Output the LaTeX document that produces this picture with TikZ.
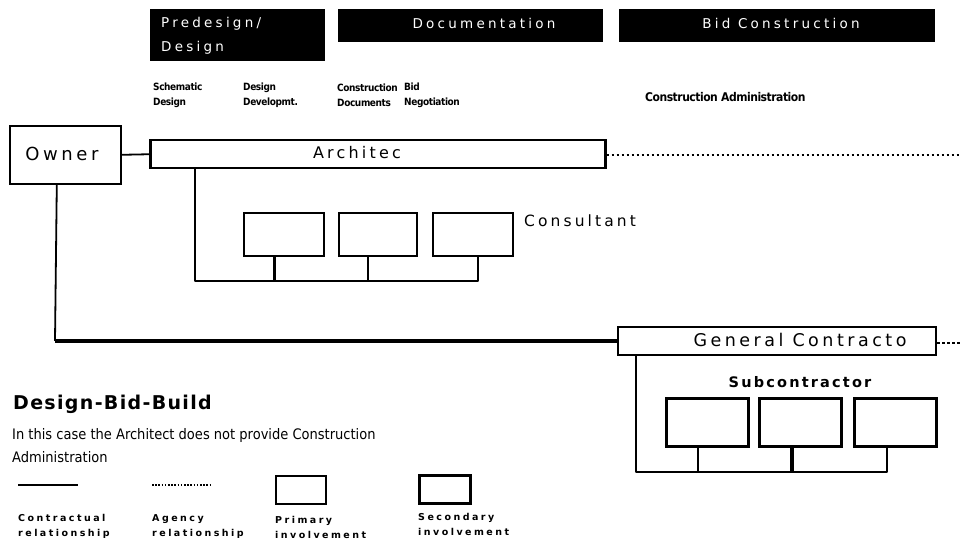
\documentclass[tikz,border=0pt]{standalone}
\usepackage{fontspec}
\setmainfont{DejaVu Sans}
\newfontfamily\headfont[LetterSpace=24]{DejaVu Sans}
\newfontfamily\labelfont[LetterSpace=20]{DejaVu Sans}
\newfontfamily\subfont[LetterSpace=15]{DejaVu Sans}
\newfontfamily\titlefont[LetterSpace=7]{DejaVu Sans}
\newfontfamily\legendfont[LetterSpace=26]{DejaVu Sans}
\newfontfamily\narrowfont[LetterSpace=-4]{DejaVu Sans Condensed}
\newfontfamily\notefont{DejaVu Sans Condensed}
\begin{document}
\begin{tikzpicture}[x=1pt,y=-1pt,
  phase/.style={fill=black,inner sep=0pt,anchor=north west},
  phasetext/.style={text=white,inner sep=0pt,font=\fontsize{13.5}{24}\headfont,align=left},
  sublabel/.style={anchor=west,inner sep=0pt,font=\fontsize{10}{15}\narrowfont\bfseries,align=left},
  bar/.style={draw,line width=2.5pt,inner sep=0pt,anchor=north west},
  primbox/.style={draw,line width=1.8pt,inner sep=0pt,anchor=north west},
  secbox/.style={draw,line width=2.8pt,inner sep=0pt,anchor=north west},
  contract/.style={line width=2.6pt,line cap=round,line join=round},
  thin contract/.style={line width=1.8pt},
  agency/.style={line width=1.6pt,dash pattern=on 2.5pt off 2.5pt},
  legendtext/.style={anchor=north west,inner sep=0pt,font=\fontsize{9.5}{15}\legendfont\bfseries,align=left}]
\useasboundingbox (0,0) rectangle (961,548);

% phase headings
\node[phase,minimum width=175,minimum height=52] (pre) at (150,9) {};
\node[phasetext,anchor=north west] (pretxt) at (161,17) {Predesign/\\Design};
\node[phase,minimum width=265,minimum height=33] (doc) at (338,9) {};
\node[phasetext] (doctxt) at (484,23) {Documentation};
\node[phase,minimum width=316,minimum height=33] (bid) at (619,9) {};
\node[phasetext] (bidtxt) at (781,23) {Bid Construction};

% phase sub-labels
\node[sublabel] (sd) at (153,95) {Schematic\\Design};
\node[sublabel] (dd) at (243,95) {Design\\Developmt.};
\node[sublabel] (cd) at (337,95) {Construction\\Documents};
\node[sublabel] (bn) at (404,95) {Bid\\Negotiation};
\node[sublabel,font=\fontsize{12}{15}\narrowfont\bfseries] (ca) at (645,97) {Construction Administration};

% owner and architect
\node[draw,line width=1.6pt,inner sep=0pt,anchor=north west,minimum width=111,minimum height=58] (owner) at (9,125) {};
\node[font=\fontsize{18}{20}\labelfont] (ownertxt) at (62,154) {Owner};
\node[bar,minimum width=455,minimum height=28] (arch) at (149,139) {};
\node[font=\fontsize{16}{18}\labelfont] (archtxt) at (357,153) {Architec};
\draw[thin contract] (owner.east) -- (arch.west);
\coordinate (agencyA) at (961,155);
\draw[agency] (arch.east |- agencyA) -- (agencyA);

% consultants
\node[primbox,minimum width=80,minimum height=43] (c1) at (243,212) {};
\node[primbox,minimum width=78,minimum height=43] (c2) at (338,212) {};
\node[primbox,minimum width=80,minimum height=43] (c3) at (432,212) {};
\node[anchor=west,inner sep=0pt,font=\fontsize{15.5}{18}\labelfont] (cons) at (524,221) {Consultant};
\coordinate (cbusL) at (195,281);
\coordinate (cbusR) at (478,281);
\draw[contract] (arch.south -| cbusL) -- (cbusL) -- (cbusR) -- (c3.south -| cbusR);
\draw[line width=3pt] (c1.south -| 274,0) -- (274,281);
\draw[line width=1.6pt] (c2.south -| 368,0) -- (368,281);

% general contractor
\node[bar,line width=2pt,minimum width=318,minimum height=28] (gc) at (617,326) {};
\node[font=\fontsize{17.5}{20}\labelfont] (gctxt) at (800,340) {General Contracto};
\coordinate (obend) at (55,341);
\draw[thin contract] ([xshift=-8.5]owner.south) -- (obend);
\draw[line width=3.6pt] (obend) -- (gc.west |- obend);
\coordinate (agencyB) at (961,343);
\draw[agency] (gc.east |- agencyB) -- (agencyB);

% subcontractors
\node[font=\fontsize{14.5}{18}\subfont\bfseries] (subtxt) at (800,382) {Subcontractor};
\node[secbox,minimum width=82,minimum height=48] (s1) at (665,397) {};
\node[secbox,minimum width=82,minimum height=48] (s2) at (758,397) {};
\node[secbox,minimum width=82,minimum height=48] (s3) at (853,397) {};
\coordinate (sbusL) at (636,472);
\coordinate (sbusR) at (887,472);
\draw[contract] (gc.south -| sbusL) -- (sbusL) -- (sbusR) -- (s3.south -| sbusR);
\draw[line width=1.6pt] (s1.south -| 698,0) -- (698,472);
\draw[line width=3.4pt] (s2.south -| 792,0) -- (792,472);

% title and note
\node[anchor=west,inner sep=0pt,font=\fontsize{19}{22}\titlefont\bfseries] (title) at (13,404) {Design-Bid-Build};
\node[anchor=north west,inner sep=0pt,font=\fontsize{14.5}{23}\notefont,align=left] (note) at (12,428) {In this case the Architect does not provide Construction\\Administration};

% legend
\coordinate (l1a) at (18,485);
\coordinate (l1b) at (78,485);
\draw[line width=1.8pt] (l1a) -- (l1b);
\coordinate (l2a) at (152,485);
\coordinate (l2b) at (210,485);
\draw[line width=1.4pt,dash pattern=on 1.6pt off 1.6pt] (l2a) -- (l2b);
\node[primbox,minimum width=50,minimum height=28] (lp) at (275,475) {};
\node[secbox,minimum width=51,minimum height=28] (ls) at (418,474) {};
\node[legendtext] (lt1) at (18,514) {Contractual\\relationship};
\node[legendtext] (lt2) at (152,514) {Agency\\relationship};
\node[legendtext] (lt3) at (275,516) {Primary\\involvement};
\node[legendtext] (lt4) at (418,513) {Secondary\\involvement};
\end{tikzpicture}
\end{document}
